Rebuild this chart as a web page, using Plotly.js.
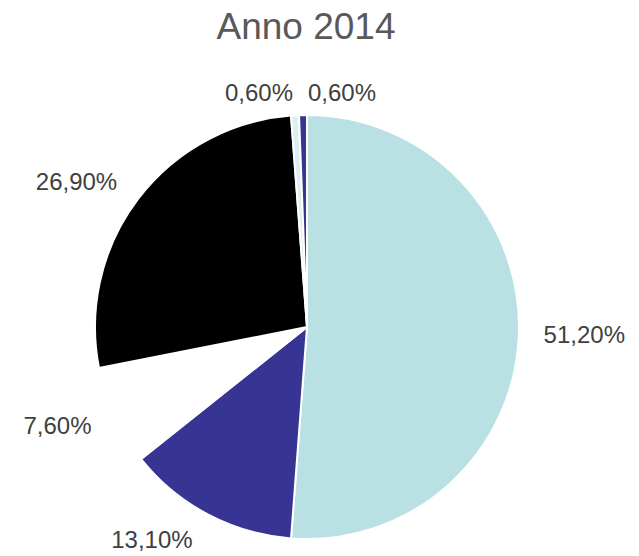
<!DOCTYPE html>
<html>
<head>
<meta charset="utf-8">
<script src="https://cdn.plot.ly/plotly-3.0.1.min.js"></script>
<style>html,body{margin:0;padding:0;background:#fff;}#chart{width:639px;height:556px;}</style>
</head>
<body>
<div id="chart"></div>
<script>
var categories = ["A", "B", "C", "D", "E", "F"];
var values = [51.2, 13.1, 7.6, 26.9, 0.6, 0.6];
var labelsText = ["51,20%", "13,10%", "7,60%", "26,90%", "0,60%", "0,60%"];
var colors = ["#B9E0E3", "#373494", "#FFFFFF", "#000000", "#DDEFF1", "#373494"];

var W = 639, H = 556;
var cx = 307, cy = 327, r = 212, rLab = 231;
var FONT = "Liberation Sans, Arial, sans-serif";

function dom(rad) {
  return {
    x: [(cx - rad) / W, (cx + rad) / W],
    y: [1 - (cy + rad) / H, 1 - (cy - rad) / H]
  };
}

// tiny slices (<1%) get their labels as annotations, placed side by side as in the reference
var outsideText = labelsText.map(function (t, i) { return values[i] < 1 ? "" : t; });

var labelTrace = {
  type: "pie",
  labels: categories,
  values: values,
  text: outsideText,
  textinfo: "text",
  textposition: "outside",
  sort: false,
  direction: "clockwise",
  rotation: 0,
  hoverinfo: "none",
  showlegend: false,
  marker: { colors: categories.map(function () { return "rgba(0,0,0,0)"; }), line: { width: 0 } },
  outsidetextfont: { family: FONT, size: 24, color: "#404040" },
  domain: dom(rLab)
};

var pieTrace = {
  type: "pie",
  labels: categories,
  values: values,
  textinfo: "none",
  sort: false,
  direction: "clockwise",
  rotation: 0,
  hoverinfo: "none",
  showlegend: false,
  marker: { colors: colors, line: { color: "#FFFFFF", width: 2 } },
  domain: dom(r)
};

var smallIdx = [];
values.forEach(function (v, i) { if (v < 1) smallIdx.push(i); });
var smallX = [259 / W, 342 / W];
var annotations = smallIdx.map(function (idx, k) {
  return {
    text: labelsText[idx], xref: "paper", yref: "paper",
    x: smallX[k], y: 1 - 93 / H, xanchor: "center", yanchor: "middle",
    showarrow: false, font: { family: FONT, size: 24, color: "#404040" }
  };
});

var layout = {
  width: W, height: H,
  margin: { l: 0, r: 0, t: 0, b: 0 },
  paper_bgcolor: "#FFFFFF",
  annotations: annotations,
  title: {
    text: "Anno 2014",
    font: { family: FONT, size: 37, color: "#595959" },
    x: 306 / W, xanchor: "center",
    y: 1 - 26 / H, yanchor: "middle", yref: "container"
  }
};

Plotly.newPlot("chart", [labelTrace, pieTrace], layout, { displayModeBar: false, staticPlot: true });
</script>
</body>
</html>
